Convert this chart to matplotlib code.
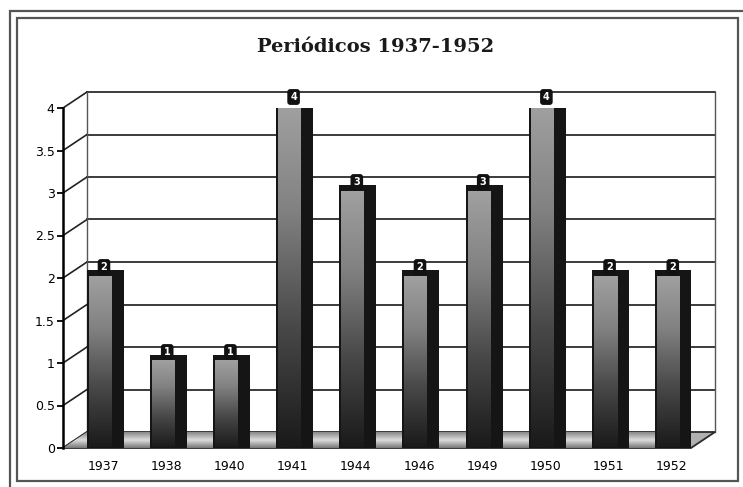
import matplotlib
matplotlib.use("Agg")
import matplotlib.pyplot as plt
import numpy as np
from matplotlib.colors import LinearSegmentedColormap
from matplotlib.patches import Polygon, Rectangle

# data
years = ["1937", "1938", "1940", "1941", "1944", "1946", "1949", "1950", "1951", "1952"]
counts = [2, 1, 1, 4, 3, 2, 3, 4, 2, 2]
y_ticks = [0, 0.5, 1, 1.5, 2, 2.5, 3, 3.5, 4]
y_labels = ["0", "0.5", "1", "1.5", "2", "2.5", "3", "3.5", "4"]
title = "Periódicos 1937-1952"

W, H = 743, 487
fig = plt.figure(figsize=(W / 100, H / 100), dpi=100)
fig.patch.set_facecolor("white")
ax = fig.add_axes([63 / W, (H - 448) / H, 628 / W, 340 / H])

x = np.arange(len(years))
xl, xr = -0.633, 9.304
ax.set_xlim(xl, xr)
ax.set_ylim(0, 4)

# one pixel in data units, and depth of the fake 3d box
px = (xr - xl) / 628
py = 4 / 340
dx, dy = 24 * px, 16 * py

# back wall + connectors from the ticks
for t in y_ticks:
    ax.plot([xl, xl + dx], [t, t + dy], color="#222222", lw=1.2, clip_on=False, zorder=1)
    if t > 0:
        ax.plot([xl + dx, xr + dx], [t + dy, t + dy], color="#1a1a1a", lw=1.2,
                clip_on=False, zorder=1)
ax.plot([xl + dx, xl + dx], [dy, 4 + dy], color="#555555", lw=1, clip_on=False, zorder=1)
ax.plot([xr + dx, xr + dx], [dy, 4 + dy], color="#555555", lw=1, clip_on=False, zorder=1)

# floor slab
floor = Polygon([[xl, 0], [xr, 0], [xr + dx, dy], [xl + dx, dy]], closed=True,
                facecolor="#b0b0b0", edgecolor="#2a2a2a", lw=1.3, clip_on=False, zorder=2)
ax.add_patch(floor)
fgrad = np.linspace(0, 1, 64).reshape(-1, 1)
fcmap = LinearSegmentedColormap.from_list("floor", ["#777777", "#dddddd", "#888888"])
fim = ax.imshow(fgrad, cmap=fcmap, origin="lower", aspect="auto",
                extent=(xl, xr + dx, 0, dy), zorder=2, interpolation="bilinear")
fim.set_clip_path(floor)

# bars: dark body with a lighter gradient front face
shift = 2 * px
bar_w = 37 * px
lift = 8 * py
ax.bar(x + shift, np.array(counts) + lift, width=bar_w, color="#151515", zorder=3)

grad = np.linspace(0, 1, 256).reshape(-1, 1)
cmap = LinearSegmentedColormap.from_list(
    "bar", [(0, "#1a1a1a"), (0.35, "#484848"), (0.7, "#828282"), (1, "#a0a0a0")])
for xi, v in zip(x, counts):
    left = xi + shift - bar_w / 2 + 2 * px
    ax.imshow(grad, cmap=cmap, origin="lower", aspect="auto", zorder=4,
              extent=(left, left + 23 * px, 1 * py, v + lift - 6 * py),
              interpolation="bilinear")
    ax.text(xi + 1 * px, v + 11 * py, str(v), ha="center", va="center", color="white",
            fontsize=7, fontweight="bold", zorder=6, clip_on=False,
            bbox=dict(boxstyle="round,pad=0.3", fc="#111111", ec="none"))

ax.set_xlim(xl, xr)
ax.set_ylim(0, 4)
ax.set_yticks(y_ticks, y_labels)
ax.set_xticks(x, years)
ax.tick_params(axis="x", length=0, pad=9, labelsize=9)
ax.tick_params(axis="y", direction="out", length=4, width=1.3, pad=2, labelsize=9)
for s in ["top", "right", "bottom"]:
    ax.spines[s].set_visible(False)
ax.spines["left"].set_linewidth(1.8)
ax.spines["left"].set_zorder(5)
ax.patch.set_visible(False)

# scanned page frame
fig.patches.append(Rectangle((10 / W, -0.02), 1.05, 1 - 11 / H + 0.02, transform=fig.transFigure,
                             fill=False, ec="#555555", lw=1.6))
fig.patches.append(Rectangle((17 / W, (H - 481) / H), (738 - 17) / W, (481 - 18) / H,
                             transform=fig.transFigure, fill=False, ec="#555555", lw=1.6))

fig.text(376 / W, 1 - 47 / H, title, ha="center", va="center", fontsize=14,
         fontweight="bold", family="DejaVu Serif", color="#1a1a1a")

fig.savefig("out.png", dpi=100)
